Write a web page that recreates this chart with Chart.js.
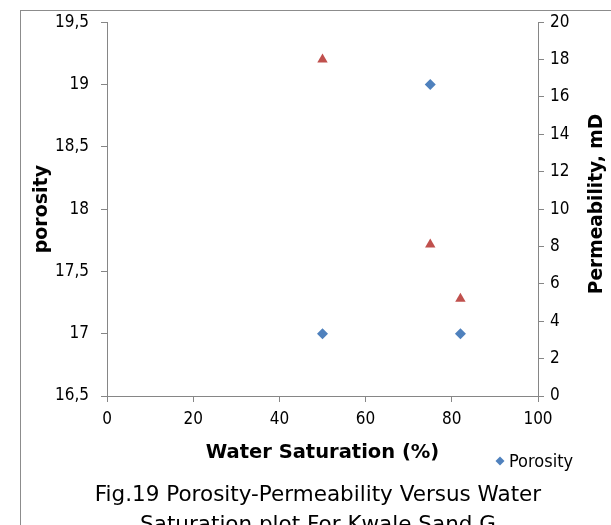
<!DOCTYPE html>
<html>
<head>
<meta charset="utf-8">
<script src="https://cdn.jsdelivr.net/npm/chart.js@4.4.1/dist/chart.umd.min.js"></script>
<style>
  html, body { margin: 0; padding: 0; background: #fff; overflow: hidden; }
  #wrap { position: relative; width: 611px; height: 525px; overflow: hidden; }
  #frame { position: absolute; left: 20px; top: 10px; width: 700px; height: 600px; border: 1px solid #8c8c8c; box-sizing: border-box; }
  #grafica { position: absolute; left: 0; top: 0; }
  #caption { position: absolute; left: 20px; width: 596px; top: 479px; text-align: center;
    font-family: "DejaVu Sans", sans-serif; font-size: 21.5px; line-height: 30px; color: #000; }
</style>
</head>
<body>
<div id="wrap">
  <div id="frame"></div>
  <canvas id="grafica" width="611" height="525"></canvas>
  <div id="caption">Fig.19 Porosity-Permeability Versus Water<br>Saturation plot For Kwale Sand G</div>
</div>
<script>
const waterSaturation = [50, 75, 82];
const porosity = [17, 19, 17];
const permeability = [18, 8.1, 5.2];

const xRange = [0, 100, 20];
const porosityRange = [16.5, 19.5, 0.5];
const permeabilityRange = [0, 20, 2];

const fontFamily = '"DejaVu Sans Condensed", "DejaVu Sans", sans-serif';
const titleFamily = '"DejaVu Sans", sans-serif';
const axisGray = '#868686';

const porosidad = {
    label: 'Porosity',
    data: porosity.map((v, i) => ({x: waterSaturation[i], y: v})),
    yAxisID: 'y',
    pointStyle: 'rectRot',
    pointRadius: 5.5,
    pointHoverRadius: 5.5,
    backgroundColor: '#4F81BD',
    borderColor: '#4F81BD',
    borderWidth: 0
};

const permeabilidad = {
    label: 'Permeability',
    data: permeability.map((v, i) => ({x: waterSaturation[i], y: v})),
    yAxisID: 'y1',
    pointStyle: 'triangle',
    pointRadius: 6,
    pointHoverRadius: 6,
    backgroundColor: '#C0504D',
    borderColor: '#C0504D',
    borderWidth: 0
};

// right axis title reads bottom-to-top, plus the single legend entry
const extras = {
    id: 'extras',
    afterDraw(chart) {
        const ctx = chart.ctx;
        ctx.save();
        ctx.fillStyle = '#000';
        ctx.font = 'bold 18.6px ' + titleFamily;
        ctx.textAlign = 'center';
        ctx.textBaseline = 'middle';
        ctx.translate(597, 204);
        ctx.rotate(-Math.PI / 2);
        ctx.fillText('Permeability, mD', 0, 0);
        ctx.restore();

        ctx.save();
        ctx.fillStyle = '#4F81BD';
        ctx.beginPath();
        ctx.moveTo(500, 456.5);
        ctx.lineTo(504.5, 461);
        ctx.lineTo(500, 465.5);
        ctx.lineTo(495.5, 461);
        ctx.closePath();
        ctx.fill();
        ctx.fillStyle = '#000';
        ctx.font = '18px ' + fontFamily;
        ctx.textAlign = 'left';
        ctx.textBaseline = 'middle';
        ctx.fillText(porosidad.label, 509, 462);
        ctx.restore();
    }
};

const tickFont = {family: fontFamily, size: 17};

const config = {
    type: 'scatter',
    data: {datasets: [porosidad, permeabilidad]},
    options: {
        responsive: false,
        animation: false,
        layout: {padding: {top: 22, left: 0, right: 0, bottom: 0}},
        plugins: {legend: {display: false}, tooltip: {enabled: false}},
        scales: {
            x: {
                type: 'linear',
                min: xRange[0], max: xRange[1],
                ticks: {stepSize: xRange[2], font: tickFont, color: '#000', padding: 7},
                grid: {drawOnChartArea: false, drawTicks: true, tickLength: 6, color: axisGray},
                border: {color: axisGray},
                title: {display: true, text: 'Water Saturation (%)', color: '#000',
                    font: {family: titleFamily, size: 19.5, weight: 'bold'}, padding: {top: 0, bottom: 60}},
                afterFit(s) { s.height = 129; }
            },
            y: {
                position: 'left',
                min: porosityRange[0], max: porosityRange[1],
                ticks: {stepSize: porosityRange[2], font: tickFont, color: '#000', padding: 12,
                    callback: v => String(Math.round(v * 10) / 10).replace('.', ',')},
                grid: {drawOnChartArea: false, drawTicks: true, tickLength: 6, color: axisGray},
                border: {color: axisGray},
                title: {display: true, text: 'porosity', color: '#000',
                    font: {family: titleFamily, size: 19, weight: 'bold'}, padding: {top: 31, bottom: 0}},
                afterFit(s) { s.width = 107; }
            },
            y1: {
                position: 'right',
                min: permeabilityRange[0], max: permeabilityRange[1],
                ticks: {stepSize: permeabilityRange[2], font: tickFont, color: '#000', padding: 6},
                grid: {drawOnChartArea: false, drawTicks: true, tickLength: 6, color: axisGray},
                border: {color: axisGray},
                afterFit(s) { s.width = 73; }
            }
        }
    },
    plugins: [extras]
};

new Chart(document.getElementById('grafica'), config);
</script>
</body>
</html>
